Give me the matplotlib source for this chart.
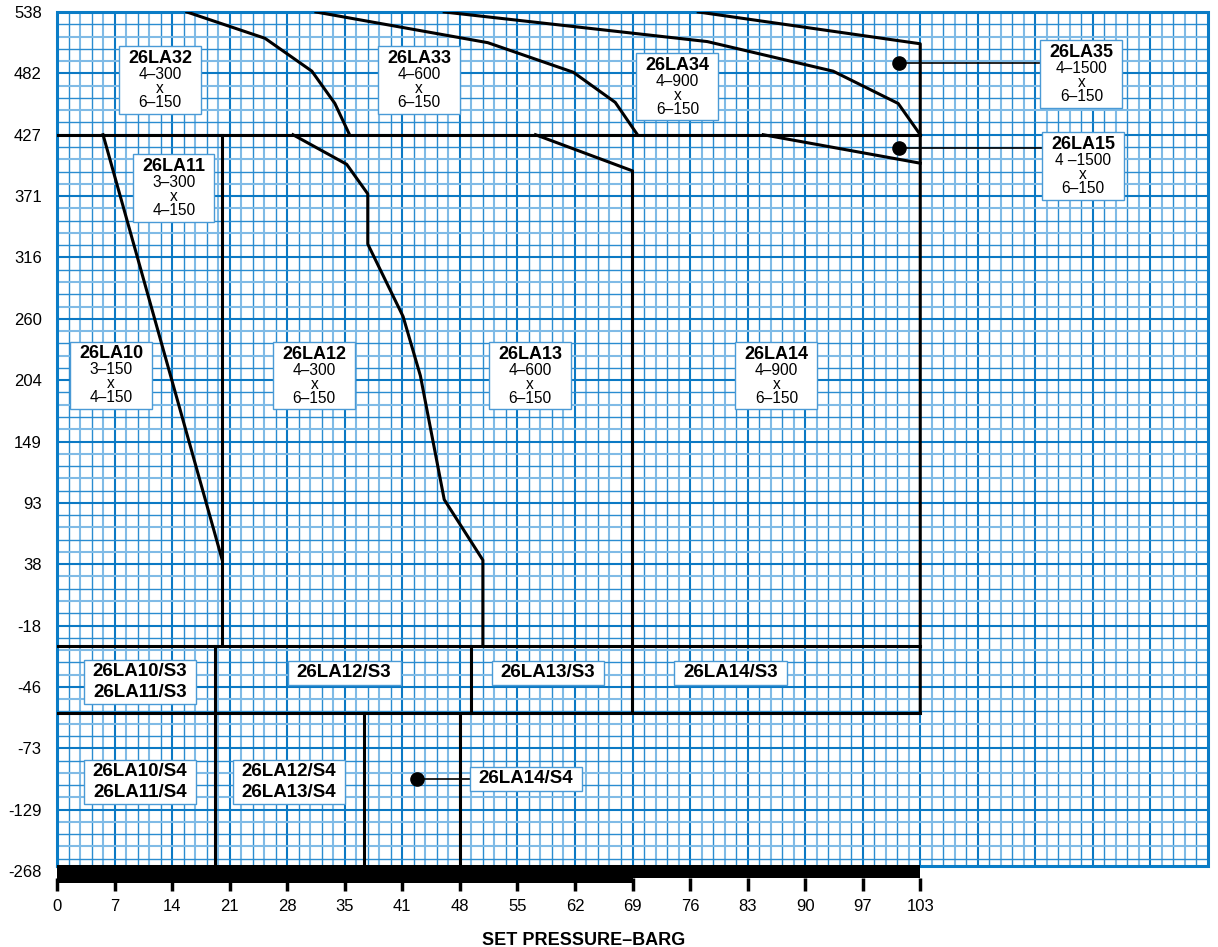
import numpy as np
import matplotlib
matplotlib.use('Agg')
import matplotlib.pyplot as plt
from matplotlib.offsetbox import TextArea, VPacker, HPacker, DrawingArea, AnnotationBbox

plt.rcParams['font.family'] = ['Liberation Sans', 'DejaVu Sans']

# Valores de los ejes (equiespaciados sobre la gráfica)
barg_ticks = [0, 7, 14, 21, 28, 35, 41, 48, 55, 62, 69, 76, 83, 90, 97, 103]
temp_ticks = [-268, -129, -73, -46, -18, 38, 93, 149, 204, 260, 316, 371, 427, 482, 538]

# Fronteras entre modelos (presión barg, temperatura °C)
b32_33_x = [15.8, 25.3, 31.0, 33.8, 35.5]
b32_33_y = [538, 514, 484, 455, 427]
b33_34_x = [31.5, 51.4, 61.8, 66.9, 69.6]
b33_34_y = [538, 510, 483, 456, 427]
b34_35_x = [46.1, 78.1, 93.4, 100.7, 103]
b34_35_y = [538, 511, 484, 455, 427]
b_top_x = [77.0, 103, 103]
b_top_y = [538, 509, -57.5]
b10_11_x = [5.6, 20.1]
b10_11_y = [427, 41.7]
b12_13_x = [28.7, 35.2, 37.4, 37.4, 41.1, 43.2, 46.1, 50.8, 50.8]
b12_13_y = [427, 400, 373, 328, 262, 208, 96, 41.7, -27.3]
b13_14_x = [57.2, 69, 69]
b13_14_y = [427, 394, -57.5]
b14_15_x = [84.9, 103]
b14_15_y = [427, 401]

# Límites horizontales (°C) de 0 a 103 barg
h_levels = [427, -27.3, -57.5]
# Límites verticales: presión, temp. superior, temp. inferior
v_x = [20.1, 19.2, 49.3, 37.0, 48.0]
v_top = [427, -27.3, -27.3, -57.5, -57.5]
v_bot = [-27.3, -268, -57.5, -268, -268]

# Puntos señalados
dot_x = [100.8, 100.8, 42.8]
dot_y = [491.4, 414.8, -101.1]


def gx(b):
    return np.interp(b, barg_ticks, np.arange(len(barg_ticks)))


def gy(t):
    return np.interp(t, temp_ticks, np.arange(len(temp_ticks)))


fig = plt.figure(figsize=(12.18, 9.47), dpi=100)
ax = fig.add_axes([57 / 1218, 1 - 878 / 947, 1151 / 1218, 866 / 947])
ax.set_xlim(0, 20)
ax.set_ylim(-0.114, 14)
for s in ax.spines.values():
    s.set_visible(False)

# Papel milimetrado
ybot = 0.08
for k in range(1, 100):
    x = k / 5
    if k % 5 == 0:
        ax.plot([x, x], [ybot, 14], color='#0b79c4', lw=1.5, zorder=1)
    elif k % 2 == 1:
        ax.plot([x, x], [ybot, 14], color='#2a8cd0', lw=1.0, zorder=1)
    else:
        ax.plot([x, x], [ybot, 14], color='#80bbe6', lw=1.5, zorder=1)
for j in range(1, 70):
    y = j / 5
    if j % 5 == 0:
        ax.plot([0, 20], [y, y], color='#0b79c4', lw=1.5, zorder=1)
    elif j % 2 == 1:
        ax.plot([0, 20], [y, y], color='#2a8cd0', lw=1.0, zorder=1)
    else:
        ax.plot([0, 20], [y, y], color='#80bbe6', lw=1.5, zorder=1)
ax.plot([0, 0, 20, 20, 0], [ybot, 14, 14, ybot, ybot], color='#0a7cc6', lw=2.2,
        zorder=2, clip_on=False, solid_joinstyle='miter')

# Barra negra inferior
ax.fill_between([gx(0), gx(69)], -0.196, 0.098, color='black', lw=0, zorder=3, clip_on=False)
ax.fill_between([gx(69), gx(103)], -0.114, 0.098, color='black', lw=0, zorder=3, clip_on=False)

# Fronteras
lw = 2.2
curves = [(b32_33_x, b32_33_y), (b33_34_x, b33_34_y), (b34_35_x, b34_35_y), (b_top_x, b_top_y),
          (b10_11_x, b10_11_y), (b12_13_x, b12_13_y), (b13_14_x, b13_14_y), (b14_15_x, b14_15_y)]
for cx, cy in curves:
    ax.plot(gx(cx), gy(cy), color='black', lw=lw, zorder=4)
for h in h_levels:
    ax.plot([gx(0), gx(103)], [gy(h), gy(h)], color='black', lw=lw, zorder=4)
for x, t, b in zip(v_x, v_top, v_bot):
    ax.plot([gx(x), gx(x)], [gy(t), gy(b)], color='black', lw=lw, zorder=4)

# Puntos con línea guía
ax.plot(gx(dot_x), gy(dot_y), 'o', color='black', ms=9.5, zorder=6)
ax.plot([gx(dot_x[0]), 17.5], [gy(dot_y[0])] * 2, color='black', lw=1.2, zorder=4)
ax.plot([gx(dot_x[1]), 17.5], [gy(dot_y[1])] * 2, color='black', lw=1.2, zorder=4)
ax.plot([gx(dot_x[2]), 8.0], [gy(dot_y[2])] * 2, color='black', lw=1.2, zorder=4)

box_ec = '#4a9ad6'


def label_box(x, y, title, sub=None, tsize=13.5):
    kids = [TextArea(title, textprops=dict(fontsize=tsize, fontweight='bold',
                                           multialignment='center', linespacing=1.3))]
    if sub:
        kids.append(TextArea(sub, textprops=dict(fontsize=11.2, multialignment='center',
                                                 linespacing=0.93)))
    inner = VPacker(children=kids, align='center', pad=0, sep=0)
    pack = HPacker(children=[DrawingArea(4, 1), inner, DrawingArea(4, 1)], align='center', pad=0, sep=0)
    ab = AnnotationBbox(pack, (x, y), xycoords='data', frameon=True, pad=0.25,
                        bboxprops=dict(edgecolor=box_ec, linewidth=1, facecolor='white'))
    ab.set_zorder(7)
    ax.add_artist(ab)


# Etiquetas (posición en unidades de la cuadrícula)
label_box(1.79, 12.89, '26LA32', '4–300\nx\n6–150', 13)
label_box(6.29, 12.89, '26LA33', '4–600\nx\n6–150', 13)
label_box(10.78, 12.78, '26LA34', '4–900\nx\n6–150', 13)
label_box(17.80, 12.99, '26LA35', '4–1500\nx\n6–150', 13)
label_box(17.83, 11.49, '26LA15', '4 –1500\nx\n6–150', 13)
label_box(2.03, 11.13, '26LA11', '3–300\nx\n4–150', 13)
label_box(0.94, 8.08, '26LA10', '3–150\nx\n4–150', 13)
label_box(4.47, 8.07, '26LA12', '4–300\nx\n6–150', 13)
label_box(8.22, 8.07, '26LA13', '4–600\nx\n6–150', 13)
label_box(12.50, 8.07, '26LA14', '4–900\nx\n6–150', 13)
label_box(1.44, 3.08, '26LA10/S3\n26LA11/S3')
label_box(4.99, 3.23, '26LA12/S3')
label_box(8.53, 3.23, '26LA13/S3')
label_box(11.70, 3.23, '26LA14/S3')
label_box(1.44, 1.45, '26LA10/S4\n26LA11/S4')
label_box(4.03, 1.45, '26LA12/S4\n26LA13/S4')
label_box(8.15, 1.50, '26LA14/S4')

# Ejes
ax.set_xticks(gx(barg_ticks))
ax.set_xticklabels([str(v) for v in barg_ticks])
ax.set_yticks(gy(temp_ticks))
ax.set_yticklabels([str(v) for v in temp_ticks])
ax.tick_params(axis='x', length=9, width=2.5, color='black', pad=6, labelsize=12)
ax.tick_params(axis='y', length=0, pad=11, labelsize=12)
fig.text(584 / 1218, 1 - 940 / 947, 'SET PRESSURE–BARG', ha='center', va='center',
         fontsize=13, fontweight='bold')

fig.savefig('out.png', dpi=100)
